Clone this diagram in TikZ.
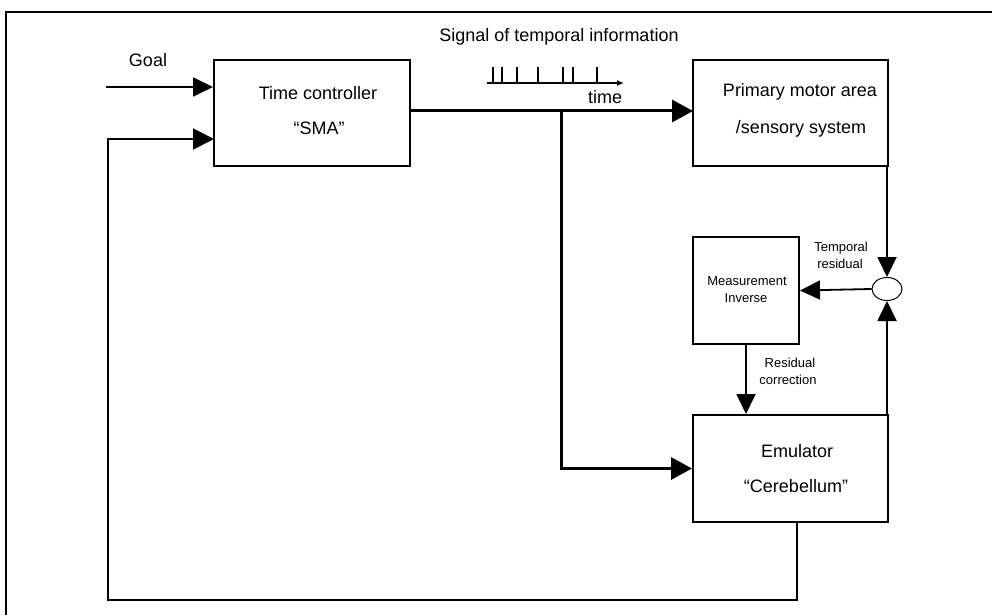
\documentclass[tikz,border=0pt]{standalone}
\usepackage{fontspec}
\setmainfont{Liberation Sans}
\usetikzlibrary{arrows.meta,calc,shapes.geometric}
\begin{document}
\begin{tikzpicture}[x=1pt,y=-1pt,
  blk/.style={draw,line width=2pt,inner sep=0pt},
  big/.style={font=\fontsize{18}{21}\selectfont,inner sep=0pt,anchor=base},
  small/.style={font=\fontsize{13}{16}\selectfont,inner sep=0pt,anchor=base},
  ar/.style={line width=1.8pt,-{Triangle[length=20pt,width=19pt]}},
  sig/.style={line width=3pt,-{Triangle[length=21pt,width=22pt]}},
  fb/.style={line width=2pt,-{Triangle[length=21pt,width=21pt]}}]
\useasboundingbox (0,0) rectangle (992,615);
% outer frame
\coordinate (frA) at (6,615);
\coordinate (frB) at (6,12);
\coordinate (frC) at (992,12);
\draw[line width=1.8pt] (frA) -- (frB) -- (frC);
% boxes
\node[blk,minimum width=196pt,minimum height=106pt] (tc) at (312,113) {};
\node[blk,minimum width=195pt,minimum height=106pt] (pm) at (790.5,113) {};
\node[blk,minimum width=106pt,minimum height=107pt] (mi) at (746,290.5) {};
\node[blk,minimum width=195pt,minimum height=107pt] (em) at (790.5,468.5) {};
\node[draw,line width=1pt,ellipse,minimum width=30pt,minimum height=23pt,inner sep=0pt] (el) at (887,289) {};
% texts
\node[big] (t1) at (318,100) {Time controller};
\node[big] (t2) at (319,134) {“SMA”};
\node[big] (t3) at (800,97) {Primary motor area};
\node[big] (t4) at (801,133) {/sensory system};
\node[big] (t5) at (797,457) {Emulator};
\node[big] (t6) at (796,492) {“Cerebellum”};
\node[small] (t7) at (747,285) {Measurement};
\node[small] (t8) at (746,302) {Inverse};
\node[small] (t9) at (841,251) {Temporal};
\node[small] (t10) at (840,268) {residual};
\node[small] (t11) at (790,367) {Residual};
\node[small] (t12) at (788,384) {correction};
\node[big] (t13) at (559,42) {Signal of temporal information};
\node[big] (goal) at (148,67) {Goal};
\node[big] (tm) at (605,103) {time};
% time axis
\coordinate (ax0) at (487,83);
\coordinate (ax1) at (624,83);
\draw[line width=1.3pt,-{Latex[length=7pt,width=6pt]}] (ax0) -- (ax1);
\foreach \xx in {493,502,517,538,563,573,597}
  \draw[line width=1.3pt] (\xx,83) -- (\xx,67);
% goal input
\coordinate (g0) at (106,87);
\draw[ar] (g0) -- (g0 -| tc.west);
% main signal
\coordinate (br) at (561,111);
\coordinate (s0) at (410,111);
\coordinate (s1) at (693,111);
\draw[sig] (s0) -- (s1);
\draw[sig] (br) |- (em.west);
% primary -> comparator
\draw[ar] (pm.south -| el) -- (el.north);
\draw[ar] (em.north -| el) -- (el.south);
\draw[ar] (el.west) -- (mi.east);
\draw[ar] (mi.south) -- (mi.south |- em.north);
% feedback loop
\coordinate (fb1) at (797,600);
\coordinate (fb2) at (108,600);
\coordinate (fbin) at (214,139);
\draw[fb] (em.south -| fb1) -- (fb1) -- (fb2) |- (fbin);
\end{tikzpicture}
\end{document}
